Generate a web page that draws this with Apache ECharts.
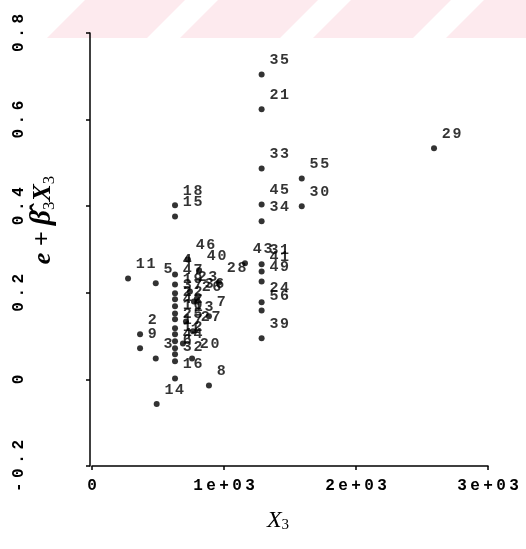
<!DOCTYPE html>
<html>
<head>
<meta charset="utf-8">
<script src="https://cdn.jsdelivr.net/npm/echarts@6/dist/echarts.min.js"></script>
<style>
  html, body { margin: 0; padding: 0; background: #ffffff; }
  #chart { width: 526px; height: 549px; }
</style>
</head>
<body>
<div id="chart"></div>
<script>
// Observation numbers, X3 values and partial residuals (e + b3*X3)
const ids = ['35','21','33','45','34','31','41','49','24','56','39',
  '55','30','29','43','28','40','36','7','20','8','16','14','18','15',
  '11','5','2','9','3','4','47','19','37','22','42','10','25','17','12',
  '44','6','32','46','23','13','27','1','26'];
const x3 = [1285,1285,1285,1285,1285,1285,1285,1285,1285,1285,1285,
  1589,1589,2591,1159,962,811,795,886,758,886,629,490,629,629,
  273,483,364,364,483,629,629,629,629,629,629,629,629,629,629,
  629,629,629,727,742,712,765,689,772];
const partial = [0.704,0.624,0.487,0.404,0.365,0.266,0.249,0.226,0.178,0.159,0.095,
  0.464,0.400,0.534,0.268,0.224,0.252,0.187,0.146,0.048,-0.014,0.002,-0.057,0.402,0.376,
  0.233,0.222,0.104,0.072,0.048,0.242,0.219,0.199,0.185,0.169,0.152,0.139,0.118,0.104,0.088,
  0.072,0.058,0.042,0.277,0.203,0.134,0.111,0.083,0.180];

// Axis tick labels
const xTickLabels = ['0','1e+03','2e+03','3e+03'];
const yTickLabels = ['-0.2','0','0.2','0.4','0.6','0.8'];

const monoFont = '"Liberation Mono", "DejaVu Sans Mono", monospace';
// wide-set monospace text: every character is its own padded rich fragment
const wide = s => s.split('').map(ch => '{c|' + ch + '}').join('');
const wideStyle = (size, pad) => ({
  c: { fontFamily: monoFont, fontSize: size, fontWeight: 'bold', color: '#000', padding: [0, pad, 0, pad] }
});

const points = x3.map((x, i) => ({ value: [x, partial[i]], name: ids[i] }));

// Light diagonal bands along the top edge
const bands = [];
for (let k = 0; k < 5; k++) {
  const x0 = 85 + 133 * k;
  bands.push({
    type: 'polygon', silent: true, z: -10,
    shape: { points: [[x0, 0], [x0 + 100, 0], [x0 + 62, 38], [x0 - 38, 38]] },
    style: { fill: 'rgb(253,234,238)' }
  });
}

const chart = echarts.init(document.getElementById('chart'), null, { renderer: 'canvas' });
chart.setOption({
  backgroundColor: '#ffffff',
  animation: false,
  grid: { left: 92, right: 38, top: 33, bottom: 83, containLabel: false },
  xAxis: {
    type: 'value', min: 0, max: 3000, interval: 1000,
    splitLine: { show: false },
    axisLine: { show: true, onZero: false, lineStyle: { color: '#000', width: 1.5 } },
    axisTick: { show: true, length: 4, lineStyle: { color: '#000', width: 1.5 } },
    axisLabel: {
      margin: 12, color: '#000',
      formatter: (v, i) => wide(xTickLabels[i]),
      rich: wideStyle(16, 1.7)
    },
    name: '{x|X}{s|3}', nameLocation: 'middle', nameGap: 42,
    nameTextStyle: {
      padding: [0, 24, 0, 0],
      rich: {
        x: { fontFamily: '"Liberation Serif", serif', fontStyle: 'italic', fontSize: 24, color: '#000' },
        s: { fontFamily: '"Liberation Serif", serif', fontSize: 15, color: '#000', verticalAlign: 'bottom', padding: [10, 0, 0, 0] }
      }
    }
  },
  yAxis: {
    type: 'value', min: -0.2, max: 0.8, interval: 0.2, offset: 2,
    splitLine: { show: false },
    axisLine: { show: true, onZero: false, lineStyle: { color: '#000', width: 1.5 } },
    axisTick: { show: true, length: 4, lineStyle: { color: '#000', width: 1.5 } },
    axisLabel: {
      rotate: 90, margin: 63, align: 'center', verticalAlign: 'bottom',
      formatter: (v, i) => wide(yTickLabels[i]),
      rich: wideStyle(16, 2.3)
    }
  },
  graphic: bands.concat([{
    type: 'text', silent: true, x: 43, y: 220, rotation: Math.PI / 2,
    style: {
      text: '{i|e + }{b|β̂}{s|3}{i|X}{s|3}',
      align: 'center', verticalAlign: 'middle',
      rich: {
        i: { fontFamily: '"Liberation Serif", serif', fontStyle: 'italic', fontWeight: 'bold', fontSize: 26, fill: '#000' },
        b: { fontFamily: '"Liberation Serif", serif', fontStyle: 'italic', fontWeight: 'bold', fontSize: 29, fill: '#000' },
        s: { fontFamily: '"Liberation Serif", serif', fontSize: 17, fill: '#000', padding: [13, 0, 0, 0] }
      }
    }
  }]),
  series: [{
    type: 'scatter',
    data: points,
    symbol: 'circle', symbolSize: 6,
    itemStyle: { color: '#000' },
    label: {
      show: true, position: 'right', distance: 4, offset: [0, -14],
      formatter: p => wide(p.name),
      rich: wideStyle(15, 0.8)
    }
  }]
});
</script>
</body>
</html>
